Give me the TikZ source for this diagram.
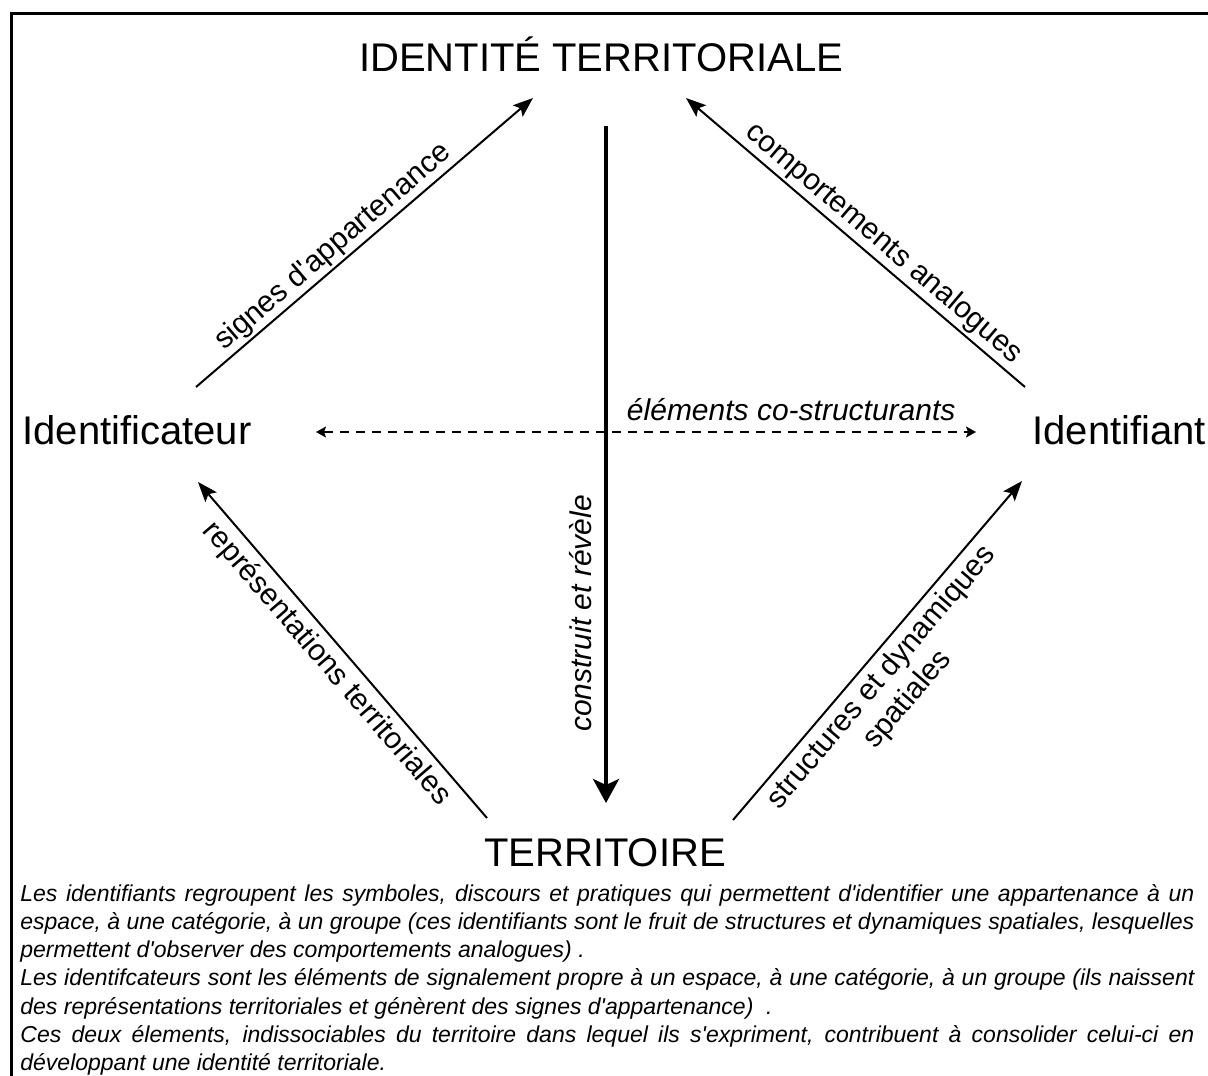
\documentclass[tikz,border=0pt]{standalone}
\usepackage{fontspec}
\setmainfont{Liberation Sans}
\usetikzlibrary{arrows.meta}
\newcommand{\apos}{\textquotesingle}
\begin{document}
\begin{tikzpicture}[x=0.5pt,y=-0.5pt,
  big/.style={font=\fontsize{20pt}{24pt}\selectfont, inner sep=0pt},
  lab/.style={font=\fontsize{15pt}{17pt}\selectfont, inner sep=0pt, sloped},
  labit/.style={font=\fontsize{15pt}{17pt}\selectfont\itshape, inner sep=0pt, sloped},
  thinline/.style={line width=1pt},
  thickline/.style={line width=2pt},
  dashline/.style={line width=0.75pt, dash pattern=on 4.75pt off 3.25pt,
     {Stealth[length=5pt,width=5.5pt,inset=1pt]}-{Stealth[length=5pt,width=5.5pt,inset=1pt]}},
  para/.style={font=\fontsize{11.5pt}{14.1pt}\selectfont\itshape, inner sep=0pt,
     text width=587pt, align=justify}
]
\useasboundingbox (0,0) rectangle (1208,1075);
% frame
\draw[line width=1.5pt] (1210,14) -- (11,14) -- (11,1077);

% main nodes
\node[big, anchor=base] (T) at (601,72) {IDENTITÉ TERRITORIALE};
\node[big, anchor=base west] (L) at (22,444) {Identificateur};
\node[big, anchor=base west] (R) at (1032,444) {Identifiant};
\node[big, anchor=base] (B) at (605,866) {TERRITOIRE};

% connector end points
\coordinate (sA) at (196,387);  \coordinate (sB) at (533,98);
\coordinate (cT) at (686,98);   \coordinate (cB) at (1025,387);
\coordinate (rT) at (198,482);  \coordinate (rB) at (487,818);
\coordinate (dB) at (733,820);  \coordinate (dT) at (1022,481);
\coordinate (vT) at (606,126);  \coordinate (vB) at (606,803);
\coordinate (hL) at (316,432);  \coordinate (hR) at (976,432);

% connectors
\draw[thinline, -{Stealth[length=10pt,width=7.5pt,inset=2pt]}] (sA) --
  node[lab, text depth=0pt, above=4pt, pos=0.44] {signes d\apos{}appartenance} (sB);
\draw[thinline, {Stealth[length=10pt,width=7.5pt,inset=2pt]}-] (cT) --
  node[lab, text depth=0pt, above=4.5pt, pos=0.55] {comportements analogues} (cB);
\draw[thinline, {Stealth[length=10pt,width=7.5pt,inset=2pt]}-] (rT) --
  node[lab, below=3pt, pos=0.5] {représentations territoriales} (rB);
\draw[thinline, -{Stealth[length=10pt,width=7.5pt,inset=2pt]}] (dB) --
  node[lab, below=3pt, pos=0.46, align=center] {structures et dynamiques\\spatiales} (dT);
\draw[thickline, -{Stealth[length=12pt,width=13pt,inset=3pt]}] (vT) -- (vB);
\path (vB) -- node[labit, text depth=0pt, above=7pt, pos=0.28] {construit et révèle} (vT);
\draw[dashline] (hL) --
  node[labit, text depth=0pt, above=5.5pt, pos=0.72] {éléments co-structurants} (hR);

% caption
\node[para, anchor=north west] (P) at (20,884) {\hyphenpenalty=10000\exhyphenpenalty=10000
Les identifiants regroupent les symboles, discours et pratiques qui permettent d\apos{}identifier une appartenance à un\linebreak
espace, à une catégorie, à un groupe (ces identifiants sont le fruit de structures et dynamiques spatiales, lesquelles\linebreak
permettent d\apos{}observer des comportements analogues) .\par
Les identifcateurs sont les éléments de signalement propre à un espace, à une catégorie, à un groupe (ils naissent\linebreak
des représentations territoriales et génèrent des signes d\apos{}appartenance)\ \ .\par
Ces deux élements, indissociables du territoire dans lequel ils s\apos{}expriment, contribuent à consolider celui-ci en\linebreak
développant une identité territoriale.};
\end{tikzpicture}
\end{document}
